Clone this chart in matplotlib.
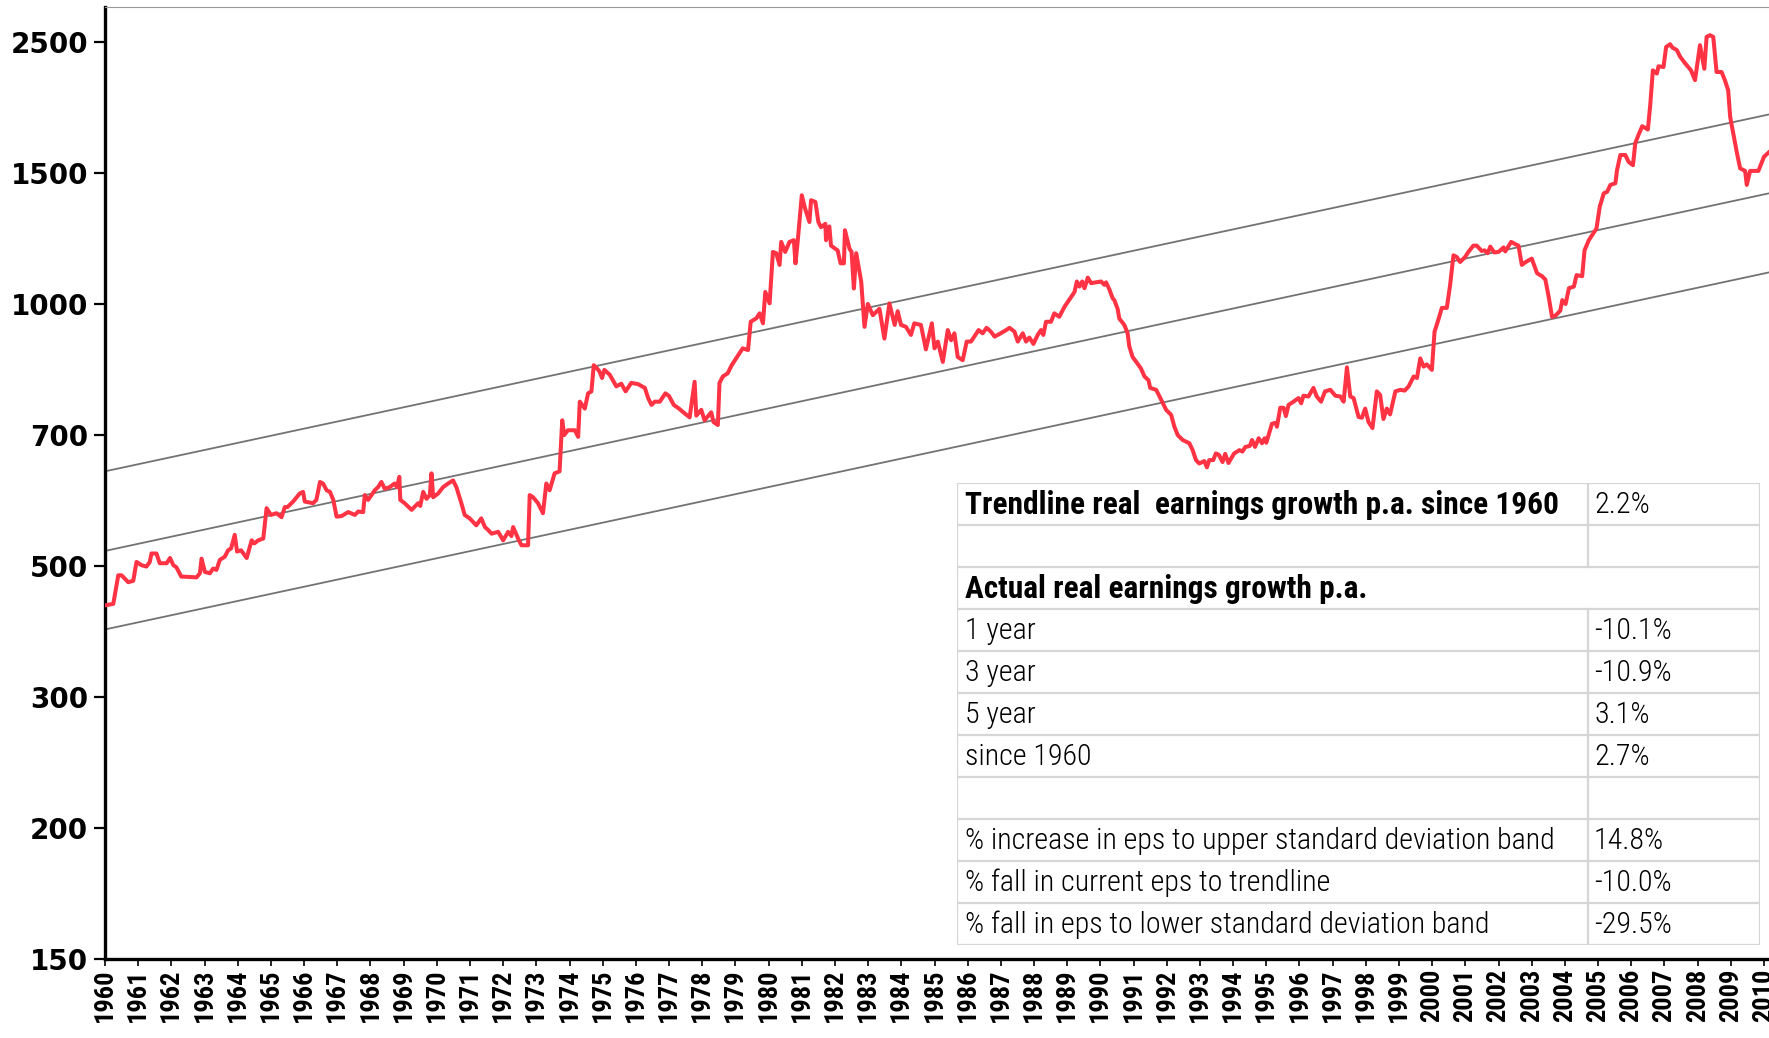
import matplotlib
matplotlib.use("Agg")
import matplotlib.pyplot as plt
from matplotlib import font_manager as fm
from matplotlib.ticker import NullLocator, FixedLocator, FixedFormatter
import numpy as np

# ---------------- data ----------------
years = [1960.00, 1960.25, 1960.40, 1960.50, 1960.70, 1960.85, 1960.95, 1961.10, 1961.25, 1961.35,
         1961.40, 1961.55, 1961.65, 1961.86, 1961.96, 1962.06, 1962.15, 1962.30, 1962.38, 1962.76,
         1962.86, 1962.91, 1963.01, 1963.16, 1963.26, 1963.36, 1963.46, 1963.61, 1963.71, 1963.80,
         1963.91, 1963.98, 1964.10, 1964.27, 1964.42, 1964.50, 1964.62, 1964.77, 1964.87, 1965.00,
         1965.17, 1965.32, 1965.42, 1965.50, 1965.67, 1965.87, 1965.97, 1966.02, 1966.27, 1966.37,
         1966.48, 1966.57, 1966.68, 1966.78, 1966.88, 1966.98, 1967.13, 1967.33, 1967.53, 1967.63,
         1967.78, 1967.83, 1967.93, 1968.03, 1968.13, 1968.23, 1968.33, 1968.43, 1968.58, 1968.73,
         1968.80, 1968.87, 1968.90, 1969.03, 1969.24, 1969.44, 1969.50, 1969.59, 1969.69, 1969.79,
         1969.84, 1969.89, 1970.04, 1970.19, 1970.34, 1970.49, 1970.59, 1970.74, 1970.84, 1970.99,
         1971.09, 1971.19, 1971.34, 1971.45, 1971.55, 1971.65, 1971.85, 1972.00, 1972.15, 1972.25,
         1972.30, 1972.45, 1972.55, 1972.75, 1972.80, 1972.90, 1973.05, 1973.20, 1973.30, 1973.40,
         1973.55, 1973.70, 1973.78, 1973.84, 1973.95, 1974.16, 1974.26, 1974.31, 1974.46, 1974.56,
         1974.66, 1974.73, 1974.83, 1974.90, 1974.98, 1975.05, 1975.21, 1975.41, 1975.56, 1975.69,
         1975.86, 1976.06, 1976.27, 1976.37, 1976.47, 1976.57, 1976.72, 1976.89, 1977.00, 1977.14,
         1977.30, 1977.43, 1977.62, 1977.77, 1977.82, 1977.97, 1978.07, 1978.27, 1978.34, 1978.47,
         1978.52, 1978.62, 1978.77, 1978.87, 1979.02, 1979.22, 1979.38, 1979.46, 1979.63, 1979.73,
         1979.83, 1979.90, 1980.03, 1980.13, 1980.23, 1980.33, 1980.38, 1980.50, 1980.63, 1980.76,
         1980.81, 1980.88, 1981.00, 1981.10, 1981.23, 1981.28, 1981.41, 1981.50, 1981.58, 1981.71,
         1981.73, 1981.83, 1981.88, 1982.08, 1982.17, 1982.27, 1982.30, 1982.44, 1982.50, 1982.57,
         1982.64, 1982.79, 1982.89, 1982.99, 1983.14, 1983.34, 1983.49, 1983.64, 1983.80, 1983.89,
         1983.99, 1984.14, 1984.29, 1984.39, 1984.59, 1984.74, 1984.92, 1985.00, 1985.10, 1985.25,
         1985.40, 1985.50, 1985.60, 1985.70, 1985.85, 1985.97, 1986.10, 1986.20, 1986.33, 1986.45,
         1986.57, 1986.70, 1986.81, 1986.96, 1987.16, 1987.26, 1987.41, 1987.51, 1987.66, 1987.76,
         1987.86, 1987.98, 1988.11, 1988.21, 1988.28, 1988.36, 1988.51, 1988.61, 1988.76, 1988.92,
         1989.12, 1989.22, 1989.29, 1989.37, 1989.45, 1989.52, 1989.62, 1989.72, 1989.87, 1990.02,
         1990.12, 1990.17, 1990.27, 1990.37, 1990.42, 1990.52, 1990.57, 1990.72, 1990.82, 1990.87,
         1990.97, 1991.12, 1991.22, 1991.33, 1991.45, 1991.50, 1991.68, 1991.83, 1991.98, 1992.13,
         1992.23, 1992.33, 1992.48, 1992.68, 1992.78, 1992.88, 1992.98, 1993.13, 1993.21, 1993.28,
         1993.40, 1993.48, 1993.57, 1993.68, 1993.76, 1993.86, 1994.03, 1994.19, 1994.28, 1994.37,
         1994.50, 1994.57, 1994.66, 1994.77, 1994.87, 1994.95, 1995.00, 1995.17, 1995.28, 1995.32,
         1995.42, 1995.52, 1995.59, 1995.67, 1995.82, 1995.97, 1996.05, 1996.12, 1996.27, 1996.42,
         1996.52, 1996.65, 1996.77, 1996.93, 1997.08, 1997.23, 1997.33, 1997.43, 1997.53, 1997.63,
         1997.78, 1997.88, 1997.98, 1998.08, 1998.20, 1998.33, 1998.43, 1998.53, 1998.63, 1998.73,
         1998.89, 1999.04, 1999.17, 1999.29, 1999.44, 1999.54, 1999.64, 1999.74, 1999.84, 1999.99,
         2000.07, 2000.19, 2000.29, 2000.44, 2000.54, 2000.64, 2000.74, 2000.84, 2000.99, 2001.09,
         2001.24, 2001.34, 2001.49, 2001.58, 2001.67, 2001.75, 2001.87, 2002.00, 2002.15, 2002.20,
         2002.38, 2002.50, 2002.60, 2002.70, 2002.83, 2003.00, 2003.16, 2003.31, 2003.41, 2003.51,
         2003.61, 2003.71, 2003.78, 2003.86, 2003.92, 2004.02, 2004.12, 2004.27, 2004.35, 2004.52,
         2004.59, 2004.72, 2004.85, 2004.95, 2005.05, 2005.17, 2005.27, 2005.37, 2005.52, 2005.57,
         2005.67, 2005.82, 2005.92, 2006.05, 2006.12, 2006.22, 2006.33, 2006.50, 2006.57, 2006.65,
         2006.77, 2006.82, 2006.97, 2007.05, 2007.17, 2007.24, 2007.37, 2007.47, 2007.62, 2007.80,
         2007.92, 2008.07, 2008.20, 2008.27, 2008.37, 2008.47, 2008.57, 2008.72, 2008.82, 2008.92,
         2008.98, 2009.08, 2009.18, 2009.28, 2009.43, 2009.48, 2009.58, 2009.83, 2010.00, 2010.25]

real_eps = [437, 439, 479, 479, 469, 471, 499, 494, 492, 499,
            512, 512, 497, 497, 505, 494, 491, 477, 477, 476,
            482, 504, 484, 482, 489, 487, 502, 507, 517, 520,
            542, 515, 517, 505, 533, 528, 533, 536, 588, 576,
            579, 572, 590, 590, 600, 615, 618, 600, 597, 603,
            637, 634, 621, 618, 603, 573, 574, 581, 576, 582,
            581, 612, 603, 612, 621, 627, 637, 624, 627, 634,
            627, 647, 603, 597, 585, 597, 592, 618, 605, 612,
            654, 608, 615, 627, 634, 640, 627, 597, 576, 570,
            564, 558, 570, 555, 550, 544, 547, 533, 547, 540,
            555, 536, 525, 525, 612, 608, 597, 579, 634, 621,
            654, 658, 769, 735, 746, 746, 731, 814, 797, 835,
            840, 910, 901, 893, 875, 897, 884, 853, 860, 840,
            862, 859, 849, 823, 806, 814, 814, 835, 828, 806,
            797, 788, 776, 865, 780, 794, 769, 788, 765, 758,
            862, 879, 888, 907, 929, 958, 953, 1039, 1050, 1066,
            1034, 1138, 1099, 1286, 1281, 1236, 1326, 1286, 1326, 1333,
            1242, 1333, 1529, 1468, 1409, 1506, 1498, 1409, 1387, 1401,
            1333, 1390, 1311, 1292, 1242, 1242, 1374, 1298, 1286, 1150,
            1281, 1175, 1023, 1097, 1060, 1081, 987, 1099, 1029, 1073,
            1029, 1023, 998, 1034, 1029, 955, 1034, 958, 978, 919,
            1013, 982, 1003, 933, 924, 978, 978, 993, 1013, 1003,
            1020, 1008, 993, 1001, 1013, 1020, 1008, 978, 1003, 978,
            990, 971, 998, 1013, 998, 1039, 1039, 1066, 1055, 1088,
            1121, 1138, 1175, 1157, 1175, 1151, 1189, 1169, 1172, 1175,
            1163, 1172, 1147, 1116, 1110, 1080, 1049, 1029, 1003, 964,
            933, 914, 901, 879, 869, 849, 844, 819, 794, 782,
            754, 735, 724, 717, 702, 681, 674, 679, 666, 681,
            681, 695, 692, 677, 694, 675, 695, 702, 699, 709,
            711, 724, 709, 728, 717, 728, 718, 761, 763, 754,
            799, 799, 779, 806, 814, 823, 810, 829, 827, 849,
            827, 814, 840, 844, 829, 827, 814, 904, 827, 823,
            777, 775, 797, 765, 751, 840, 831, 772, 797, 783,
            840, 844, 842, 853, 879, 875, 929, 906, 912, 897,
            1008, 1047, 1084, 1084, 1163, 1273, 1266, 1247, 1266, 1286,
            1311, 1311, 1290, 1292, 1281, 1307, 1284, 1286, 1304, 1288,
            1326, 1317, 1311, 1236, 1248, 1260, 1205, 1194, 1182, 1121,
            1055, 1058, 1066, 1075, 1110, 1097, 1151, 1157, 1198, 1194,
            1292, 1333, 1360, 1381, 1477, 1538, 1545, 1578, 1586, 1651,
            1729, 1729, 1693, 1676, 1793, 1840, 1888, 1869, 2013, 2239,
            2217, 2267, 2262, 2405, 2425, 2400, 2383, 2335, 2288, 2239,
            2173, 2418, 2250, 2480, 2493, 2480, 2228, 2228, 2173, 2107,
            1942, 1840, 1743, 1660, 1647, 1578, 1647, 1647, 1720, 1760]

# trend line (2.2% p.a.) and +/- one standard deviation bands, end points
trend_years = [1960.0, 2010.15]
trend_mid = [516, 1538]
trend_upper = [658, 1957]
trend_lower = [406, 1208]

ytick_values = [148.4, 221.4, 330.3, 492.7, 735.1, 1096.6, 1636.0, 2440.6]
ytick_labels = ["150", "200", "300", "500", "700", "1000", "1500", "2500"]
xtick_years = list(range(1960, 2011))

table_labels = ["Trendline real  earnings growth p.a. since 1960", "",
                "Actual real earnings growth p.a.", "1 year", "3 year", "5 year",
                "since 1960", "", "% increase in eps to upper standard deviation band",
                "% fall in current eps to trendline", "% fall in eps to lower standard deviation band"]
table_values = ["2.2%", "", "", "-10.1%", "-10.9%", "3.1%", "2.7%", "", "14.8%", "-10.0%", "-29.5%"]
table_bold = [True, False, True, False, False, False, False, False, False, False, False]

# ---------------- fonts ----------------
avail = {f.name for f in fm.fontManager.ttflist}
narrow = next((f for f in ["Liberation Sans Narrow", "Roboto Condensed", "Open Sans Condensed",
                           "DejaVu Sans Condensed", "Liberation Sans"] if f in avail), "DejaVu Sans")

W, H = 1769, 1038
fig = plt.figure(figsize=(W / 100, H / 100), dpi=100)
fig.patch.set_facecolor("white")

ax_l, ax_r, ax_t, ax_b = 105, 1769, 7, 959
ax = fig.add_axes([ax_l / W, (H - ax_b) / H, (ax_r - ax_l) / W, (ax_b - ax_t) / H])
ax.set_yscale("log")
ax.set_xlim(1960, 2010.15)
ax.set_ylim(148.4, 2717)

for yv in (trend_upper, trend_mid, trend_lower):
    ax.plot(trend_years, yv, color="#737373", lw=1.3, zorder=2)
ax.plot(years, real_eps, color="#FF3344", lw=2.9, zorder=3, solid_joinstyle="round")

ax.yaxis.set_major_locator(FixedLocator(ytick_values))
ax.yaxis.set_major_formatter(FixedFormatter(ytick_labels))
ax.yaxis.set_minor_locator(NullLocator())
ax.xaxis.set_major_locator(FixedLocator(xtick_years))
ax.xaxis.set_major_formatter(FixedFormatter([str(y) for y in xtick_years]))
ax.xaxis.set_minor_locator(NullLocator())

ax.tick_params(axis="y", direction="out", length=8, width=1.6, pad=4, labelsize=20)
ax.tick_params(axis="x", direction="out", length=5, width=1.2, pad=2, labelsize=19, rotation=90)
for lab in ax.get_yticklabels():
    lab.set_fontweight("bold")
    lab.set_fontfamily("DejaVu Sans")
for lab in ax.get_xticklabels():
    lab.set_fontweight("bold")
    lab.set_fontfamily(narrow)

ax.spines["left"].set_linewidth(2.4)
ax.spines["bottom"].set_linewidth(2.4)
ax.spines["top"].set_linewidth(0.8)
ax.spines["top"].set_color("#999999")
ax.spines["right"].set_visible(False)

# ---------------- table ----------------
t_l, t_r, t_t, t_b = 957, 1760, 483, 945
col_x = 1588 - t_l
tw, th = t_r - t_l, t_b - t_t
tax = fig.add_axes([t_l / W, (H - t_b) / H, tw / W, th / H])
tax.set_xlim(0, tw)
tax.set_ylim(th, 0)
tax.axis("off")
tax.add_patch(plt.Rectangle((0, 0), tw, th, facecolor="white", edgecolor="none", zorder=0))
nrows = len(table_labels)
rh = th / nrows
bc = "#d6d6d6"
for i in range(nrows + 1):
    tax.plot([0, tw], [i * rh, i * rh], color=bc, lw=1.6, zorder=1, solid_capstyle="butt")
tax.plot([0, 0], [0, th], color=bc, lw=1.6, zorder=1)
tax.plot([tw, tw], [0, th], color=bc, lw=1.6, zorder=1)
for i in range(nrows):
    if i != 2:
        tax.plot([col_x, col_x], [i * rh, (i + 1) * rh], color=bc, lw=1.6, zorder=1)


def fit_size(text, weight, target):
    p = tax.text(8, 0.5 * rh, text, fontsize=20, fontweight=weight, family=narrow,
                 va="center", ha="left")
    fig.canvas.draw()
    w = p.get_window_extent().width
    p.remove()
    return 20 * target / w


fs_bold = fit_size(table_labels[0], "bold", 592.0)
fs_reg = fit_size(table_labels[8], "light", 590.0)

for i in range(nrows):
    yc = (i + 0.5) * rh + 1
    if table_labels[i]:
        b = table_bold[i]
        tax.text(8, yc, table_labels[i], fontsize=fs_bold if b else fs_reg, family=narrow,
                 fontweight="bold" if b else "light", va="center", ha="left", zorder=2)
    if table_values[i]:
        tax.text(col_x + 6, yc, table_values[i], fontsize=fs_reg, family=narrow,
                 fontweight="light", va="center", ha="left", zorder=2)

fig.savefig("out.png", dpi=100, facecolor="white")
